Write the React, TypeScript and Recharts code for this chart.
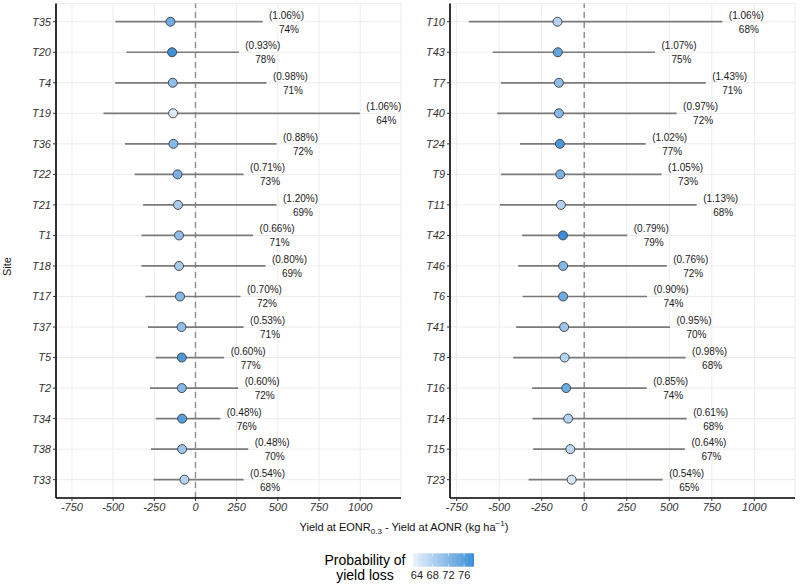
import React from 'react';
import { ScatterChart, Scatter, XAxis, YAxis, CartesianGrid, ReferenceLine, ErrorBar } from 'recharts';

// Left facet: sites, interval (lo/hi), central estimate, % yield loss and probability
const leftSites = ['T35', 'T20', 'T4', 'T19', 'T36', 'T22', 'T21', 'T1', 'T18', 'T17', 'T37', 'T5', 'T2', 'T34', 'T38', 'T33'];
const leftLo = [-486, -419, -488, -559, -428, -369, -318, -328, -328, -304, -288, -241, -276, -241, -270, -255];
const leftMid = [-152, -142, -138, -136, -134, -109, -106, -100, -100, -94, -85, -83, -83, -81, -81, -67];
const leftHi = [407, 263, 431, 998, 492, 292, 492, 350, 425, 273, 292, 174, 259, 150, 320, 292];
const leftLoss = [1.06, 0.93, 0.98, 1.06, 0.88, 0.71, 1.2, 0.66, 0.8, 0.7, 0.53, 0.6, 0.6, 0.48, 0.48, 0.54];
const leftProb = [74, 78, 71, 64, 72, 73, 69, 71, 69, 72, 71, 77, 72, 76, 70, 68];

// Right facet
const rightSites = ['T10', 'T43', 'T7', 'T40', 'T24', 'T9', 'T11', 'T42', 'T46', 'T6', 'T41', 'T8', 'T16', 'T14', 'T15', 'T23'];
const rightLo = [-678, -539, -490, -512, -378, -490, -496, -365, -388, -362, -400, -418, -306, -304, -300, -327];
const rightMid = [-157, -155, -149, -149, -143, -141, -137, -125, -124, -124, -118, -115, -106, -94, -82, -74];
const rightHi = [812, 416, 714, 543, 361, 455, 661, 253, 485, 369, 504, 596, 367, 602, 592, 461];
const rightLoss = [1.06, 1.07, 1.43, 0.97, 1.02, 1.05, 1.13, 0.79, 0.76, 0.9, 0.95, 0.98, 0.85, 0.61, 0.64, 0.54];
const rightProb = [68, 75, 71, 72, 77, 73, 68, 79, 72, 74, 70, 68, 74, 68, 67, 65];

const xTicks = [-750, -500, -250, 0, 250, 500, 750, 1000];
const legendTicks = [64, 68, 72, 76];

const FONT = '"Liberation Sans", Arial, Helvetica, sans-serif';
const probRange = [63, 78.5];
const lowRGB = [234, 242, 250];
const highRGB = [59, 142, 216];

function probColor(p: number) {
  const t = Math.min(1, Math.max(0, (p - probRange[0]) / (probRange[1] - probRange[0])));
  const c = lowRGB.map((l, i) => Math.round(l + (highRGB[i] - l) * t));
  return `rgb(${c.join(',')})`;
}

const tickStyle = { fontSize: 11, fontStyle: 'italic', fill: '#333', fontFamily: FONT };

const Dot = (props: any) => {
  const { cx, cy, payload } = props;
  return <circle cx={cx} cy={cy} r={4.5} fill={probColor(payload.prob)} stroke="#3a3a3a" strokeWidth={0.9} />;
};

const EndLabel = (props: any) => {
  const { cx, cy, payload } = props;
  return (
    <g fontFamily={FONT} fontSize={10} fill="#1a1a1a">
      <text x={cx + 24} y={cy - 3} textAnchor="middle">{`(${payload.loss.toFixed(2)}%)`}</text>
      <text x={cx + 26.5} y={cy + 11} textAnchor="middle">{`${payload.prob}%`}</text>
    </g>
  );
};

interface PanelProps {
  sites: string[];
  lo: number[];
  mid: number[];
  hi: number[];
  loss: number[];
  prob: number[];
  domain: [number, number];
  left: number;
  width: number;
  axisWidth: number;
  rightMargin: number;
}

const Panel: React.FC<PanelProps> = ({ sites, lo, mid, hi, loss, prob, domain, left, width, axisWidth, rightMargin }) => {
  const rows = sites.map((site, i) => ({
    site,
    idx: i + 1,
    mid: mid[i],
    hi: hi[i],
    err: [mid[i] - lo[i], hi[i] - mid[i]],
    loss: loss[i],
    prob: prob[i],
  }));
  const rowTicks = rows.map((r) => r.idx);

  return (
    <div style={{ position: 'absolute', left, top: 0 }}>
      <ScatterChart width={width} height={518} margin={{ top: 3.4, right: rightMargin, bottom: 0, left: 0 }}>
        <CartesianGrid stroke="#ececec" strokeWidth={1} />
        <XAxis
          type="number"
          dataKey="mid"
          domain={domain}
          allowDataOverflow
          ticks={xTicks}
          height={20}
          tick={tickStyle}
          tickSize={3}
          tickLine={{ stroke: '#333' }}
          axisLine={{ stroke: '#000', strokeWidth: 1.6 }}
        />
        <XAxis xAxisId="end" type="number" dataKey="hi" domain={domain} allowDataOverflow hide />
        <YAxis
          type="number"
          dataKey="idx"
          domain={[0.4, 16.6]}
          allowDataOverflow
          reversed
          ticks={rowTicks}
          interval={0}
          width={axisWidth}
          tickFormatter={(v: number) => sites[v - 1]}
          tick={tickStyle}
          tickSize={3}
          tickLine={{ stroke: '#333' }}
          axisLine={{ stroke: '#000', strokeWidth: 1.6 }}
        />
        <ReferenceLine x={0} stroke="#8c8c8c" strokeWidth={1.4} strokeDasharray="6 4" />
        <Scatter data={rows} shape={<Dot />} isAnimationActive={false}>
          <ErrorBar dataKey="err" direction="x" width={0} stroke="#7a7a7a" strokeWidth={1.7} />
        </Scatter>
        <Scatter data={rows} xAxisId="end" shape={<EndLabel />} isAnimationActive={false} />
      </ScatterChart>
    </div>
  );
};

const App: React.FC = () => {
  const barLeft = 413;
  const barWidth = 61;
  const legendX = (v: number) => barLeft + ((v - probRange[0]) / (probRange[1] - probRange[0])) * barWidth;
  const stops = [0, 0.25, 0.5, 0.75, 1].map((t) => ({
    t,
    color: probColor(probRange[0] + t * (probRange[1] - probRange[0])),
  }));

  return (
    <div style={{ position: 'absolute', left: 0, top: 0, width: 800, height: 584, background: '#fff', fontFamily: FONT, overflow: 'hidden' }}>
      <Panel
        sites={leftSites}
        lo={leftLo}
        mid={leftMid}
        hi={leftHi}
        loss={leftLoss}
        prob={leftProb}
        domain={[-847, 1248]}
        left={0}
        width={430}
        axisWidth={56}
        rightMargin={29}
      />
      <Panel
        sites={rightSites}
        lo={rightLo}
        mid={rightMid}
        hi={rightHi}
        loss={rightLoss}
        prob={rightProb}
        domain={[-789, 1239]}
        left={400}
        width={400}
        axisWidth={50}
        rightMargin={5}
      />

      {/* axis titles */}
      <div
        style={{
          position: 'absolute',
          left: 0,
          top: 262,
          width: 14,
          transform: 'rotate(-90deg)',
          fontSize: 11,
          color: '#111',
          textAlign: 'center',
          lineHeight: '14px',
        }}
      >
        Site
      </div>
      <div style={{ position: 'absolute', left: 0, width: 808, top: 517, textAlign: 'center', fontSize: 11, color: '#111', lineHeight: '14px' }}>
        Yield at EONR<sub style={{ fontSize: 8 }}>0.3</sub> - Yield at AONR (kg ha<sup style={{ fontSize: 8 }}>−1</sup>)
      </div>

      {/* colour bar legend */}
      <div style={{ position: 'absolute', left: 310, width: 110, top: 553, textAlign: 'center', fontSize: 14, lineHeight: '14.5px', color: '#000' }}>
        Probability of
        <br />
        yield loss
      </div>
      <svg style={{ position: 'absolute', left: 0, top: 540 }} width={800} height={44}>
        <defs>
          <linearGradient id="probGrad" x1="0" x2="1" y1="0" y2="0">
            {stops.map((s) => (
              <stop key={s.t} offset={s.t} stopColor={s.color} />
            ))}
          </linearGradient>
        </defs>
        <rect x={barLeft} y={13.3} width={barWidth} height={13.4} fill="url(#probGrad)" />
        {legendTicks.map((v) => (
          <g key={v}>
            <line x1={legendX(v)} x2={legendX(v)} y1={13.3} y2={16} stroke="#fff" strokeWidth={0.6} />
            <line x1={legendX(v)} x2={legendX(v)} y1={24} y2={26.7} stroke="#fff" strokeWidth={0.6} />
            <text x={legendX(v)} y={39} textAnchor="middle" fontSize={11} fontFamily={FONT} fill="#222">
              {v}
            </text>
          </g>
        ))}
      </svg>
    </div>
  );
};

export default App;
